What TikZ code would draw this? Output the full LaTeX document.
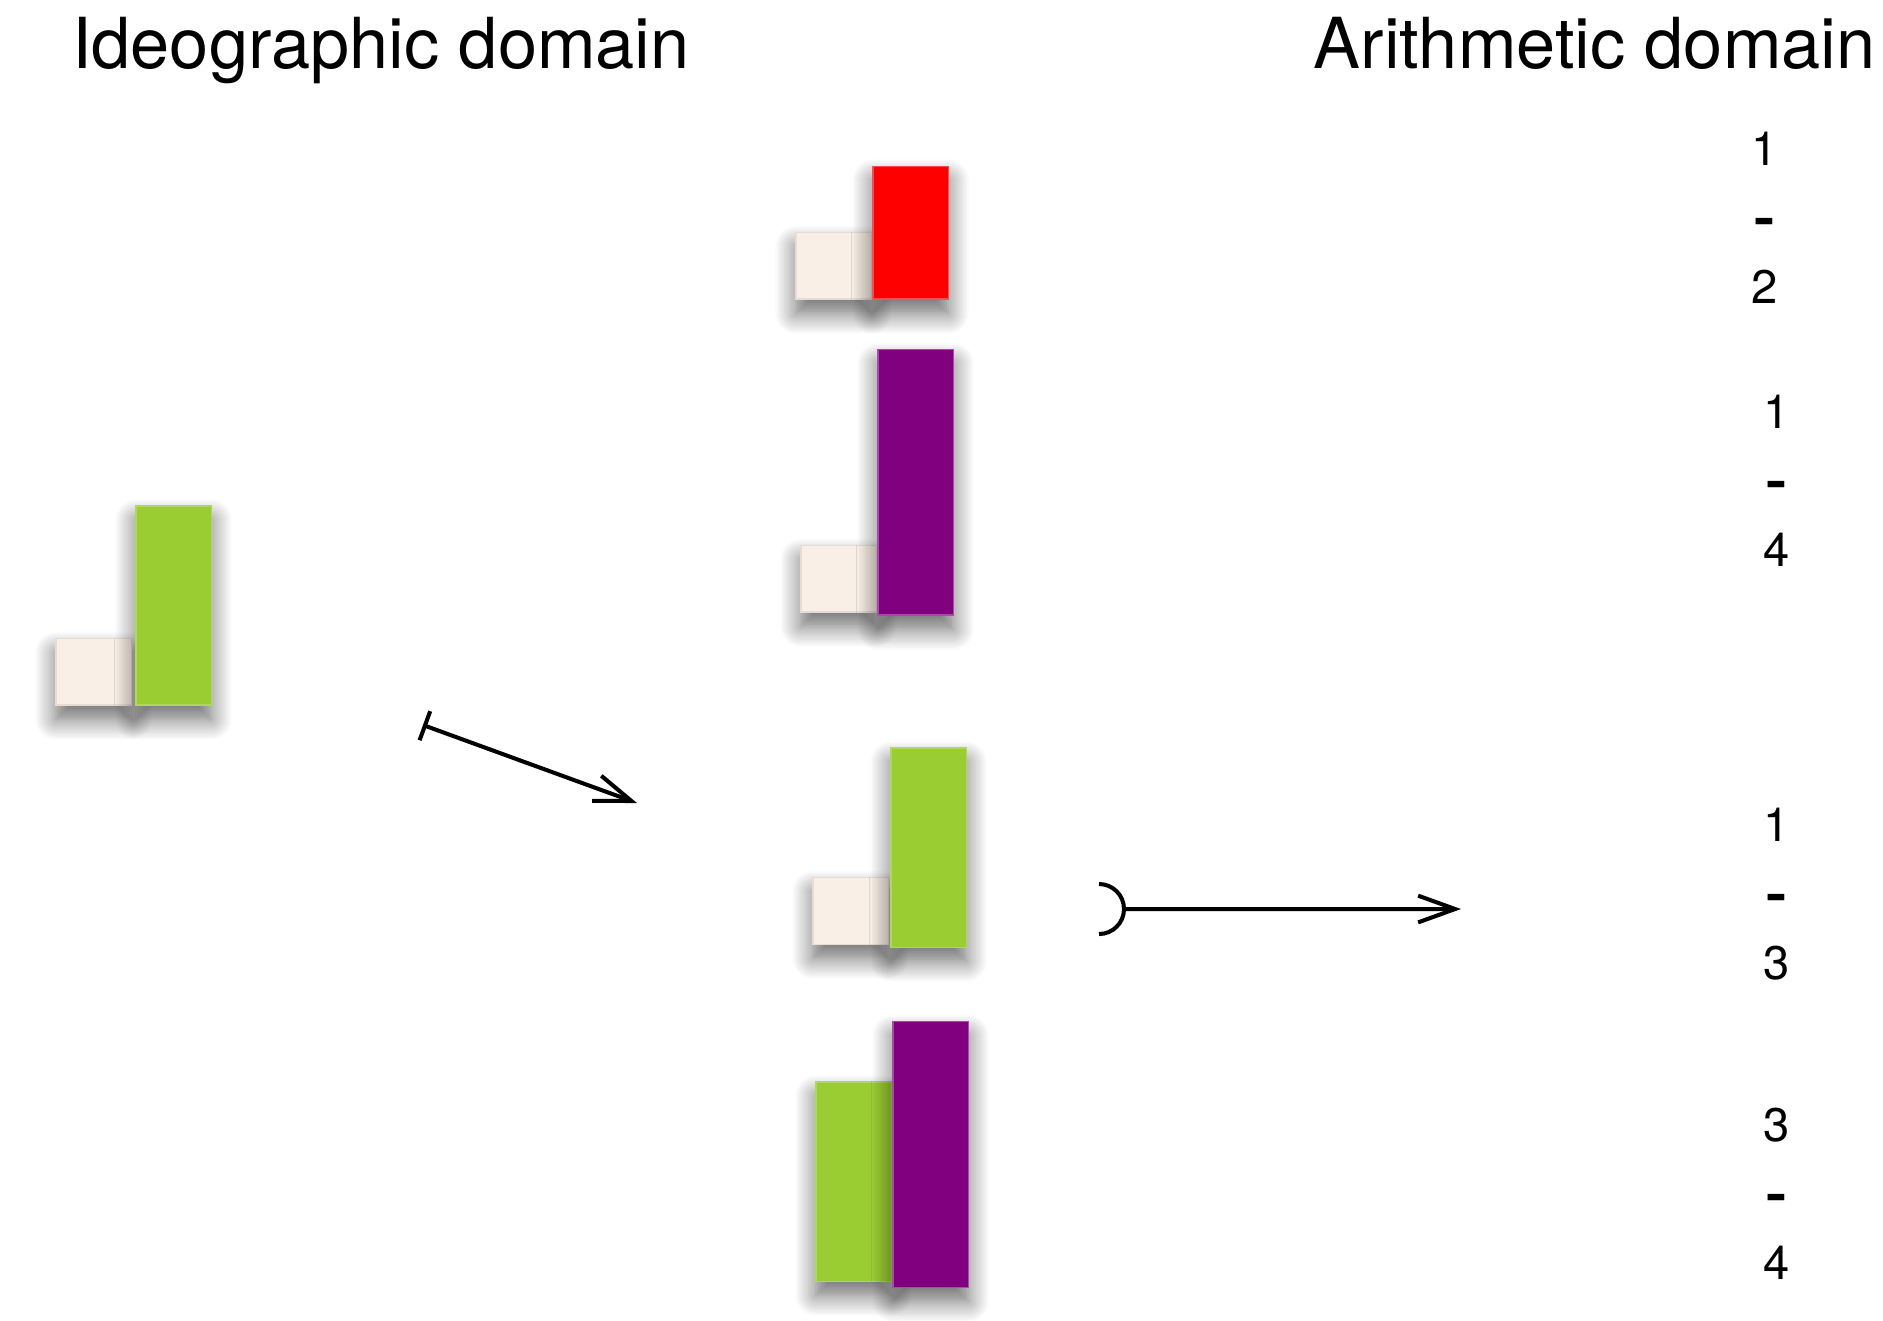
\documentclass[tikz,border=0pt]{standalone}
\usepackage{fontspec}
\setmainfont{TeX Gyre Heros}
\usetikzlibrary{arrows.meta,shadows.blur}
\definecolor{rodcream}{RGB}{249,239,230}
\definecolor{rodred}{RGB}{255,0,0}
\definecolor{rodgreen}{RGB}{154,205,50}
\definecolor{rodpurple}{RGB}{128,0,128}
\tikzset{
  rod/.style={rectangle,inner sep=0pt,outer sep=0pt,anchor=south west,
    minimum width=0.75cm,line width=0.3pt,
    blur shadow={shadow xshift=0pt,shadow yshift=-4pt,
      shadow blur radius=6pt,shadow blur steps=12,shadow opacity=60}},
  rod1/.style={rod,minimum height=0.663cm,fill=rodcream,draw=rodcream!92!black},
  rod2/.style={rod,minimum height=1.326cm,fill=rodred,draw=rodred!70!white},
  rod3/.style={rod,minimum height=1.989cm,fill=rodgreen,draw=rodgreen!80!white},
  rod4/.style={rod,minimum height=2.652cm,fill=rodpurple,draw=rodpurple!70!white},
  heading/.style={anchor=base west,inner sep=0pt,font=\fontsize{20}{24}\selectfont},
  difference/.style={align=center,inner sep=0pt,font=\fontsize{13.4}{19.6}\selectfont},
  barb/.style={line width=1.15pt}
}
\newcommand{\minussign}{\scalebox{1.3}[1]{\bfseries -}}
\begin{document}
\begin{tikzpicture}[x=0.01cm,y=-0.01cm]
        \useasboundingbox (0,0) rectangle (1883,1320);
        % Headings
        \node[heading] (ideo) at (71.5,68.5) {Ideographic domain};
        \node[heading] (arith) at (1313,68.5) {Arithmetic domain};
        % Ideographic rods
        \node[rod1] (cream-a) at (56,705) {};
        \node[rod3] (green-a) at (136,705) {};
        % Rod pairs
        \node[rod1] (cream-b) at (796,299) {};
        \node[rod2] (red-b) at (873,299) {};
        \node[rod1] (cream-c) at (801,612) {};
        \node[rod4] (purple-c) at (878,615) {};
        \node[rod1] (cream-d) at (813,944) {};
        \node[rod3] (green-d) at (891,947) {};
        \node[rod3] (green-e) at (816,1281) {};
        \node[rod4] (purple-e) at (893,1287) {};
        % Arrows
        \coordinate (from-a) at (423,725);
        \coordinate (to-a) at (637,803);
        \draw[barb,{Bar[width=8.8pt]}-{Straight Barb[length=10.5pt,width=7.6pt]}]
          (from-a) -- (to-a);
        \coordinate (from-b) at (1124,909);
        \coordinate (to-b) at (1461,909);
        \draw[barb,-{Straight Barb[length=10.5pt,width=7.6pt]}]
          (from-b) ++(-25,-25) arc[start angle=-90,end angle=90,radius=25]
          (from-b) -- (to-b);
        % Differences
        \node[difference] (diff-12) at (1765,218) {1\\\minussign\\2};
        \node[difference] (diff-14) at (1777,481) {1\\\minussign\\4};
        \node[difference] (diff-13) at (1777,894) {1\\\minussign\\3};
        \node[difference] (diff-34) at (1777,1194) {3\\\minussign\\4};
      \end{tikzpicture}
\end{document}
